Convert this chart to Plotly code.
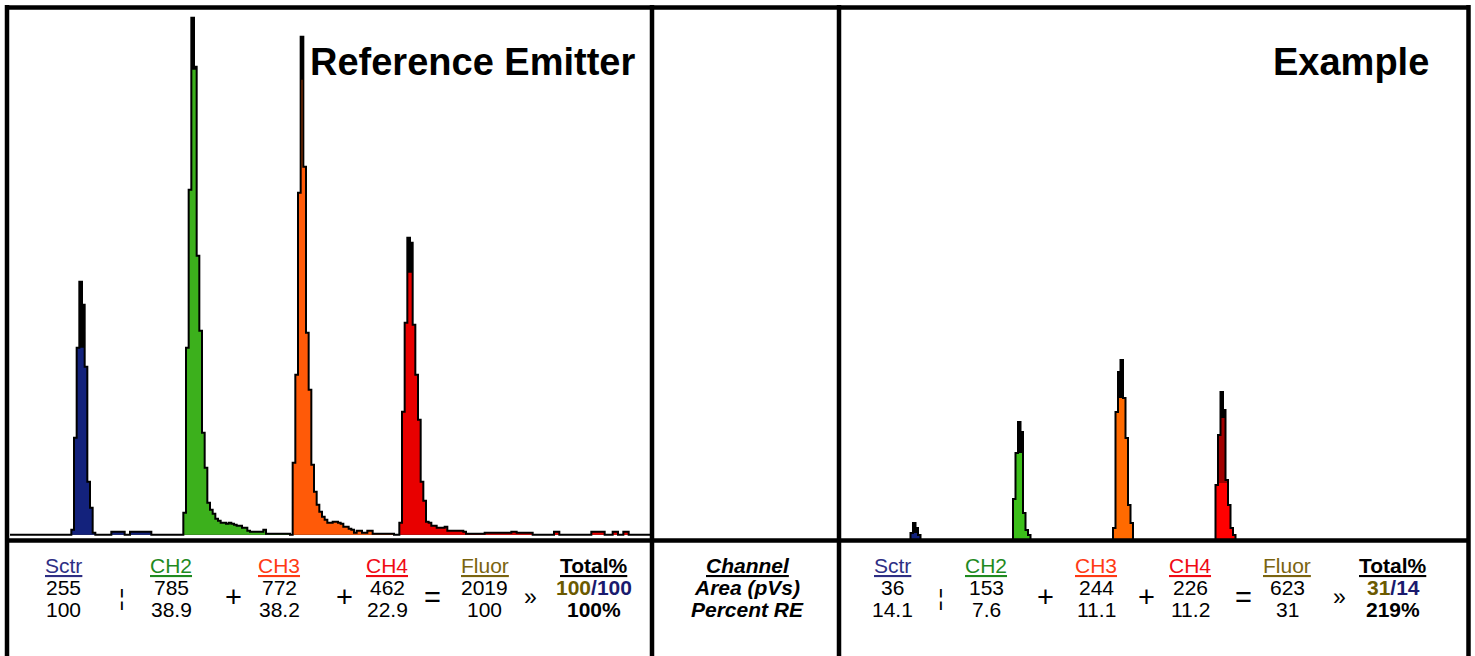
import plotly.graph_objects as go

W, H = 1475, 656

# ---------------- histogram data (height units per channel) ----------------
REF_N_CH = 240
EX_N_CH = 248

ref_sctr_start = 23
ref_sctr = [5, 97, 187, 253, 230, 168, 53, 27, 2, 0, 0, 0, 0, 0, 0, 3, 3, 3, 3, 3, 0, 0, 3, 3, 3, 3, 3, 3, 3, 3]
ref_ch2_start = 65
ref_ch2 = [22, 187, 345, 517, 468, 279, 204, 102, 67, 32, 25, 21, 16, 14, 12, 12, 11, 12, 11, 10,
           9, 9, 7, 7, 4, 3, 3, 3, 3, 3, 5, 1, 1, 1, 1, 1, 1, 1, 1, 1]
ref_ch3_start = 106
ref_ch3 = [72, 160, 342, 498, 368, 202, 145, 70, 43, 30, 23, 18, 15, 12, 12, 13, 13, 12, 11, 8,
           8, 6, 5, 2, 4, 4, 2, 2, 4, 4, 1, 1, 1, 1, 1, 1, 1, 1]
ref_ch4_start = 146
ref_ch4 = [12, 123, 212, 297, 292, 210, 160, 115, 53, 34, 13, 12, 9, 9, 7, 7, 7, 8, 4, 4,
           4, 4, 4, 4, 3, 1, 1, 1, 1, 1, 1, 1, 2, 2, 2, 2, 2, 2, 2, 2,
           2, 2, 3, 3, 2, 2, 2, 2, 2, 2, 0, 0, 0, 0, 0, 0, 0, 0, 3, 3,
           0, 0, 0, 0, 0, 0, 0, 0, 0, 0, 0, 0, 3, 3, 3, 3, 3, 0, 0, 0,
           3, 3, 0, 0, 3, 3]
ref_fill_caps = [187, 465, 455, 262]

ex_sctr_start = 25
ex_sctr = [7, 17, 12, 5]
ex_ch2_start = 66
ex_ch2 = [41, 87, 118, 108, 27, 10, 5]
ex_ch3_start = 106
ex_ch3 = [12, 128, 168, 180, 142, 102, 35, 17]
ex_ch4_start = 147
ex_ch4 = [55, 105, 148, 130, 60, 35, 12, 5]
ex_fill_caps = [7, 87, 142, 122]
ex_ch4_inner_cap = 57

# ---------------- table data ----------------
channel_names = ["Sctr", "CH2", "CH3", "CH4", "Fluor"]
operators = ["\u00a6", "+", "+", "=", "\u00bb"]
ref_area = [255, 785, 772, 462, 2019]
ref_pct = ["100", "38.9", "38.2", "22.9", "100"]
ref_total = ["100", "/100", "100%"]
ex_area = [36, 153, 244, 226, 623]
ex_pct = ["14.1", "7.6", "11.1", "11.2", "31"]
ex_total = ["31", "/14", "219%"]
row_labels = ["Channel", "Area (pVs)", "Percent RE"]

# ---------------- styles ----------------
FONT = "Liberation Sans, Arial, sans-serif"
hdr_colors = ["#2e2e84", "#1f8a1f", "#ff3a14", "#f00a14", "#7a6410"]
ref_fill_colors = ["#13227c", "#3cb01c", "#ff5a08", "#e80000"]
ex_fill_colors = ["#13227c", "#3cbf1a", "#ff6a00", "#a00000"]
ex_ch4_inner_color = "#ff0000"
total_a_color = "#6b5a00"
total_b_color = "#1a1a6e"


def step(start, counts):
    xs = list(range(start, start + len(counts) + 1))
    ys = list(counts) + [counts[-1]]
    return xs, ys


def full_counts(n, peaks):
    arr = [0] * n
    for s, c in peaks:
        for i, v in enumerate(c):
            if 0 <= s + i < n:
                arr[s + i] = v
    return arr


fig = go.Figure()


def add_panel(xa, ya, n, peaks, caps, colors, extra=None):
    tot = full_counts(n, peaks)
    x, y = step(0, tot)
    # black body of the total histogram
    fig.add_trace(go.Scatter(x=x, y=y, mode="lines", line=dict(width=0, shape="hv"),
                             fill="tozeroy", fillcolor="black", xaxis=xa, yaxis=ya,
                             hoverinfo="skip", showlegend=False))
    for (s, c), cap, col in zip(peaks, caps, colors):
        xs, ys = step(s, [min(v, cap) for v in c])
        fig.add_trace(go.Scatter(x=xs, y=ys, mode="lines", line=dict(width=0, shape="hv"),
                                 fill="tozeroy", fillcolor=col, xaxis=xa, yaxis=ya,
                                 hoverinfo="skip", showlegend=False))
    if extra:
        s, c, cap, col = extra
        xs, ys = step(s, [min(v, cap) for v in c])
        fig.add_trace(go.Scatter(x=xs, y=ys, mode="lines", line=dict(width=0, shape="hv"),
                                 fill="tozeroy", fillcolor=col, xaxis=xa, yaxis=ya,
                                 hoverinfo="skip", showlegend=False))
    fig.add_trace(go.Scatter(x=x, y=y, mode="lines", line=dict(width=2, color="black", shape="hv"),
                             xaxis=xa, yaxis=ya, hoverinfo="skip", showlegend=False))


add_panel("x", "y", REF_N_CH,
          [(ref_sctr_start, ref_sctr), (ref_ch2_start, ref_ch2),
           (ref_ch3_start, ref_ch3), (ref_ch4_start, ref_ch4)],
          ref_fill_caps, ref_fill_colors)
add_panel("x2", "y2", EX_N_CH,
          [(ex_sctr_start, ex_sctr), (ex_ch2_start, ex_ch2),
           (ex_ch3_start, ex_ch3), (ex_ch4_start, ex_ch4)],
          ex_fill_caps, ex_fill_colors,
          extra=(ex_ch4_start, ex_ch4, ex_ch4_inner_cap, ex_ch4_inner_color))

hidden = dict(showgrid=False, zeroline=False, showticklabels=False, showline=False, ticks="",
              fixedrange=True)


def px(v):
    return v / W


def py(v):
    return 1 - v / H


fig.update_layout(
    width=W, height=H, margin=dict(l=0, r=0, t=0, b=0),
    paper_bgcolor="white", plot_bgcolor="white",
    xaxis=dict(domain=[px(10), px(650)], range=[0, 240], **hidden),
    yaxis=dict(domain=[0, 1], range=[-121.3, 534.7], **hidden),
    xaxis2=dict(domain=[px(840), px(1466)], range=[-3.2, 247.2], **hidden),
    yaxis2=dict(domain=[0, 1], range=[-116, 540], anchor="x2", **hidden),
    showlegend=False,
)
fig.update_layout(xaxis2_anchor="y2")

# frame lines
frame = [
    (5, 7.5, 1470, 7.5), (5, 540.5, 1470, 540.5),
    (7, 5, 7, 660), (652, 5, 652, 660), (839, 5, 839, 660), (1468.5, 5, 1468.5, 660),
]
for x0, y0, x1, y1 in frame:
    fig.add_shape(type="line", xref="paper", yref="paper", x0=px(x0), y0=py(y0), x1=px(x1), y1=py(y1),
                  line=dict(color="black", width=4.5), layer="above")

annots = []


def txt(x, y, s, size=21, color="black", anchor="center"):
    annots.append(dict(x=px(x), y=py(y), xref="paper", yref="paper", text=s, showarrow=False,
                       xanchor=anchor, yanchor="middle",
                       font=dict(family=FONT, size=size, color=color)))


txt(637, 62, "<b>Reference Emitter</b>", size=38, anchor="right")
txt(1431, 62, "<b>Example</b>", size=38, anchor="right")

row_y = [565.7, 587.7, 609.7]
op_y = 597


def table(col_x, op_x, tot_x, area, pct, total):
    for i, name in enumerate(channel_names):
        txt(col_x[i], row_y[0], "<u>%s</u>" % name, color=hdr_colors[i])
        txt(col_x[i], row_y[1], str(area[i]))
        txt(col_x[i], row_y[2], pct[i])
    for i, op in enumerate(operators):
        size = 22 if i == 0 else (29 if i < 4 else 23)
        txt(op_x[i], op_y, op, size=size)
    txt(tot_x, row_y[0], "<b><u>Total%</u></b>")
    txt(tot_x, row_y[1], "<b><span style='color:%s'>%s</span><span style='color:%s'>%s</span></b>"
        % (total_a_color, total[0], total_b_color, total[1]))
    txt(tot_x, row_y[2], "<b>%s</b>" % total[2])


table([63, 171, 279, 387, 485], [122, 233, 344, 433, 530], 594, ref_area, ref_pct, ref_total)
table([892, 986, 1096, 1190, 1287], [941, 1045, 1146, 1243, 1339], 1393, ex_area, ex_pct, ex_total)

txt(748, row_y[0], "<b><i><u>%s</u></i></b>" % row_labels[0])
txt(747, row_y[1], "<b><i>%s</i></b>" % row_labels[1])
txt(747, row_y[2], "<b><i>%s</i></b>" % row_labels[2])

fig.update_layout(annotations=annots)

fig.write_html("out.html", config={"displayModeBar": False},
               post_script="document.body.style.margin='0px';document.body.style.overflow='hidden';")
